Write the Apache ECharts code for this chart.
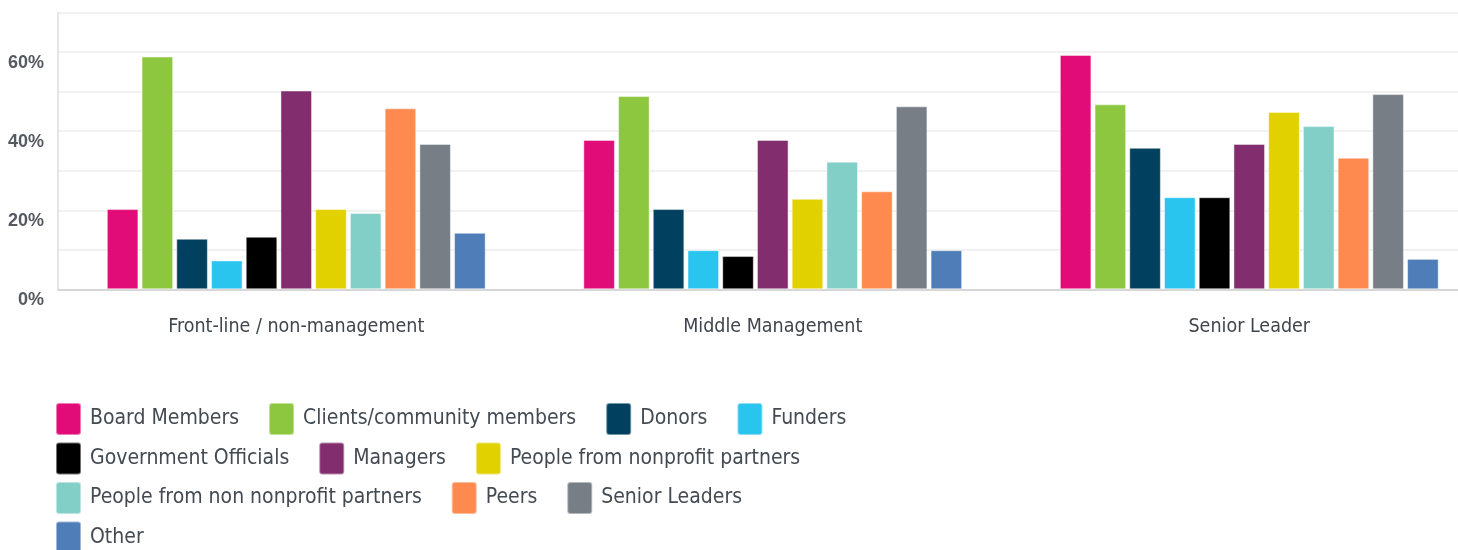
<!DOCTYPE html>
<html>
<head>
<meta charset="utf-8">
<script src="https://cdn.jsdelivr.net/npm/echarts@6/dist/echarts.min.js"></script>
<style>
  html, body { margin: 0; padding: 0; background: #fff; }
  #chart { width: 1458px; height: 550px; }
</style>
</head>
<body>
<div id="chart"></div>
<script>
const categories = ["Front-line / non-management", "Middle Management", "Senior Leader"];

const seriesNames = [
  "Board Members", "Clients/community members", "Donors", "Funders",
  "Government Officials", "Managers", "People from nonprofit partners",
  "People from non nonprofit partners", "Peers", "Senior Leaders", "Other"
];

const seriesColors = [
  "#E20C79", "#8DC63F", "#01405F", "#2AC5EF",
  "#000000", "#812D6E", "#E1D100",
  "#82CFC8", "#FF8A50", "#777E86", "#4F7DB7"
];

// percent per series, one value per category
const boardMembers = [20.3, 37.8, 59.3];
const clients = [58.9, 48.9, 46.8];
const donors = [12.8, 20.3, 35.8];
const funders = [7.3, 9.9, 23.3];
const govOfficials = [13.3, 8.4, 23.3];
const managers = [50.3, 37.8, 36.8];
const nonprofitPartners = [20.3, 22.9, 44.9];
const nonNonprofitPartners = [19.3, 32.3, 41.3];
const peers = [45.8, 24.8, 33.3];
const seniorLeaders = [36.8, 46.3, 49.4];
const other = [14.3, 9.9, 7.7];

const seriesValues = [
  boardMembers, clients, donors, funders, govOfficials, managers,
  nonprofitPartners, nonNonprofitPartners, peers, seniorLeaders, other
];

const yTicks = [0, 20, 40, 60];

// legend rows as they wrap in the original
const legendRows = [
  ["Board Members", "Clients/community members", "Donors", "Funders"],
  ["Government Officials", "Managers", "People from nonprofit partners"],
  ["People from non nonprofit partners", "Peers", "Senior Leaders"],
  ["Other"],
];

const textColor = "#434A52";
const condensedFont = "'Liberation Sans Narrow', 'DejaVu Sans Condensed', sans-serif";
const legendIcon = "path://M3,0H22A3,3 0 0 1 25,3V29A3,3 0 0 1 22,32H3A3,3 0 0 1 0,29V3A3,3 0 0 1 3,0Z";

const chart = echarts.init(document.getElementById("chart"));

chart.setOption({
  animation: false,
  color: seriesColors,
  grid: {
    left: 58,
    top: 12.7,
    bottom: 260.7,
    width: 1429.5,
    outerBoundsMode: "none",
    containLabel: false,
  },
  legend: legendRows.map(function (row, r) {
    return {
      left: 55,
      top: 402 + r * 39.5,
      padding: 0,
      itemWidth: 25,
      itemHeight: 32,
      itemGap: 29,
      icon: legendIcon,
      textStyle: {
        fontFamily: condensedFont,
        fontSize: 21,
        color: textColor,
        padding: [2, 0, 0, 4],
      },
      data: row,
    };
  }),
  xAxis: {
    type: "category",
    data: categories,
    axisTick: { show: false },
    axisLine: {
      lineStyle: { color: "#CDCDCD", width: 1.5 },
    },
    axisLabel: {
      margin: 28,
      color: "#3F454C",
      fontSize: 19.5,
      fontFamily: condensedFont,
    },
  },
  yAxis: {
    type: "value",
    min: 0,
    max: 70,
    interval: 10,
    axisLine: {
      show: true,
      lineStyle: { color: "#DDDDDD", width: 1.5 },
    },
    axisTick: { show: false },
    axisLabel: {
      margin: 14,
      color: "#555A61",
      fontSize: 18,
      fontWeight: "bold",
      fontFamily: "'Liberation Sans', sans-serif",
      verticalAlign: "top",
      padding: [2, 0, 0, 0],
      formatter: function (value) {
        return yTicks.indexOf(value) >= 0 ? value + "%" : "";
      },
    },
    splitLine: {
      lineStyle: { color: "#ECECEC", width: 1.5 },
    },
  },
  series: seriesNames.map(function (name, i) {
    return {
      name: name,
      type: "bar",
      data: seriesValues[i],
      barCategoryGap: "20.5%",
      barGap: "10%",
      itemStyle: {
        borderColor: "rgba(255,255,255,0.45)",
        borderWidth: 1,
      },
    };
  }),
});
</script>
</body>
</html>
